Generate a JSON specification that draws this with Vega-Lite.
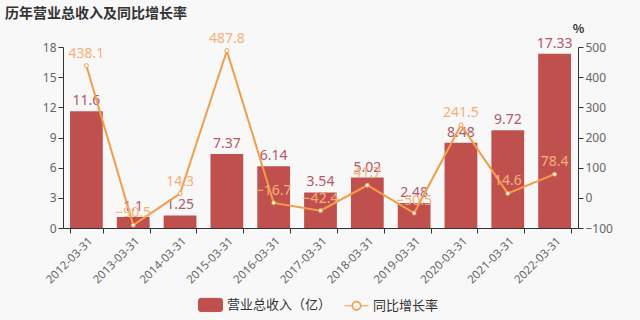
{
  "$schema": "https://vega.github.io/schema/vega-lite/v6.json",
  "width": 515,
  "height": 181,
  "autosize": {"type": "none"},
  "padding": {"left": 63, "top": 47, "right": 62, "bottom": 92},
  "background": "#f8f8f8",
  "title": {
    "text": "历年营业总收入及同比增长率",
    "anchor": "start",
    "frame": "group",
    "dx": -58,
    "dy": 3,
    "fontSize": 14,
    "fontWeight": "bold",
    "color": "#333333",
    "font": "Noto Sans CJK SC"
  },
  "config": {
    "view": {"stroke": null},
    "font": "Noto Sans CJK SC",
    "legend": {
      "orient": "none",
      "legendX": 135,
      "legendY": 245,
      "direction": "horizontal",
      "labelFontSize": 13,
      "labelColor": "#333333",
      "labelFont": "Noto Sans CJK SC",
      "symbolSize": 576,
      "columnPadding": 10,
      "labelOffset": 4
    }
  },
  "data": {
    "values": [
      {"date": "2012-03-31", "rev": 11.6, "rate": 438.1},
      {"date": "2013-03-31", "rev": 1.1, "rate": -90.5},
      {"date": "2014-03-31", "rev": 1.25, "rate": 14.3},
      {"date": "2015-03-31", "rev": 7.37, "rate": 487.8},
      {"date": "2016-03-31", "rev": 6.14, "rate": -16.7},
      {"date": "2017-03-31", "rev": 3.54, "rate": -42.4},
      {"date": "2018-03-31", "rev": 5.02, "rate": 41.7},
      {"date": "2019-03-31", "rev": 2.48, "rate": -50.5},
      {"date": "2020-03-31", "rev": 8.48, "rate": 241.5},
      {"date": "2021-03-31", "rev": 9.72, "rate": 14.6},
      {"date": "2022-03-31", "rev": 17.33, "rate": 78.4}
    ]
  },
  "encoding": {
    "x": {
      "field": "date",
      "type": "nominal",
      "sort": null,
      "scale": {"paddingInner": 0.3, "paddingOuter": 0.15},
      "axis": {
        "title": null,
        "labelAngle": -45,
        "labelAlign": "right",
        "labelBaseline": "top",
        "labelFontSize": 11.5,
        "labelColor": "#666666",
        "labelPadding": 2,
        "labelOverlap": false,
        "tickBand": "extent",
        "domainColor": "#333333",
        "tickColor": "#333333",
        "tickSize": 5,
        "labelFont": "Noto Sans"
      }
    }
  },
  "layer": [
    {
      "encoding": {
        "y": {
          "field": "rev",
          "type": "quantitative",
          "scale": {"domain": [0, 18], "nice": false},
          "axis": {
            "title": null,
            "values": [0, 3, 6, 9, 12, 15, 18],
            "labelOverlap": false,
            "grid": false,
            "labelFontSize": 12,
            "labelColor": "#666666",
            "domainColor": "#333333",
            "tickColor": "#333333",
            "tickSize": 5,
            "labelFont": "Noto Sans"
          }
        }
      },
      "layer": [
        {
          "mark": {"type": "bar", "color": "#c0504d"},
          "encoding": {
            "color": {
              "datum": "营业总收入（亿）",
              "type": "nominal",
              "scale": {
                "domain": ["营业总收入（亿）", "同比增长率"],
                "range": ["#c0504d", "#f39c4a"]
              },
              "legend": {
                "title": null,
                "encode": {
                  "symbols": {
                    "update": {
                      "shape": [
                        {"test": "datum.value == '同比增长率'", "value": "M-1,0L-0.38,0M0.38,0L1,0M0.38,0A0.38,0.38,0,1,1,-0.38,0A0.38,0.38,0,1,1,0.38,0ZM0.32,0A0.32,0.32,0,1,0,-0.32,0A0.32,0.32,0,1,0,0.32,0Z"},
                        {"value": "M-0.8,-0.55L0.8,-0.55Q1,-0.55,1,-0.35L1,0.35Q1,0.55,0.8,0.55L-0.8,0.55Q-1,0.55,-1,0.35L-1,-0.35Q-1,-0.55,-0.8,-0.55Z"}
                      ],
                      "fill": [
                        {"test": "datum.value == '同比增长率'", "value": "#f39c4a"},
                        {"value": "#c0504d"}
                      ],
                      "fillOpacity": {"value": 1},
                      "stroke": [
                        {"test": "datum.value == '同比增长率'", "value": "#f39c4a"},
                        {"value": "#c0504d"}
                      ],
                      "strokeWidth": {"value": 1}
                    }
                  }
                }
              }
            }
          }
        },
        {
          "mark": {"type": "text", "dy": -10, "fontSize": 14, "color": "#b5576a", "font": "Noto Sans"},
          "encoding": {
            "text": {"field": "rev", "type": "quantitative"}
          }
        }
      ]
    },
    {
      "encoding": {
        "y": {
          "field": "rate",
          "type": "quantitative",
          "scale": {"domain": [-100, 500], "nice": false},
          "axis": {
            "orient": "right",
            "title": "%",
            "titleAngle": 0,
            "titleX": 0,
            "titleY": -12,
            "titleAlign": "center",
            "titleFontSize": 12,
            "titleFontWeight": "bold",
            "titleColor": "#333333",
            "values": [-100, 0, 100, 200, 300, 400, 500],
            "labelOverlap": false,
            "grid": false,
            "labelFontSize": 12,
            "labelColor": "#666666",
            "domainColor": "#333333",
            "tickColor": "#333333",
            "tickSize": 5,
            "labelFont": "Noto Sans"
          }
        }
      },
      "layer": [
        {
          "mark": {"type": "line", "color": "#f39c4a", "strokeWidth": 2},
          "encoding": {
            "color": {
              "datum": "同比增长率",
              "type": "nominal",
              "legend": {
                "title": null,
                "encode": {
                  "symbols": {
                    "update": {
                      "shape": [
                        {"test": "datum.value == '同比增长率'", "value": "M-1,0L-0.38,0M0.38,0L1,0M0.38,0A0.38,0.38,0,1,1,-0.38,0A0.38,0.38,0,1,1,0.38,0ZM0.32,0A0.32,0.32,0,1,0,-0.32,0A0.32,0.32,0,1,0,0.32,0Z"},
                        {"value": "M-0.8,-0.55L0.8,-0.55Q1,-0.55,1,-0.35L1,0.35Q1,0.55,0.8,0.55L-0.8,0.55Q-1,0.55,-1,0.35L-1,-0.35Q-1,-0.55,-0.8,-0.55Z"}
                      ],
                      "fill": [
                        {"test": "datum.value == '同比增长率'", "value": "#f39c4a"},
                        {"value": "#c0504d"}
                      ],
                      "fillOpacity": {"value": 1},
                      "stroke": [
                        {"test": "datum.value == '同比增长率'", "value": "#f39c4a"},
                        {"value": "#c0504d"}
                      ],
                      "strokeWidth": {"value": 1}
                    }
                  }
                }
              }
            }
          }
        },
        {
          "mark": {"type": "point", "filled": true, "fill": "#ffffff", "stroke": "#f39c4a", "strokeWidth": 1, "size": 16, "opacity": 1}
        },
        {
          "mark": {"type": "text", "dy": -12, "fontSize": 14, "color": "#f4b07a", "font": "Noto Sans"},
          "encoding": {
            "text": {"field": "rate", "type": "quantitative", "format": ".1f"}
          }
        }
      ]
    }
  ],
  "resolve": {"scale": {"y": "independent"}}
}
